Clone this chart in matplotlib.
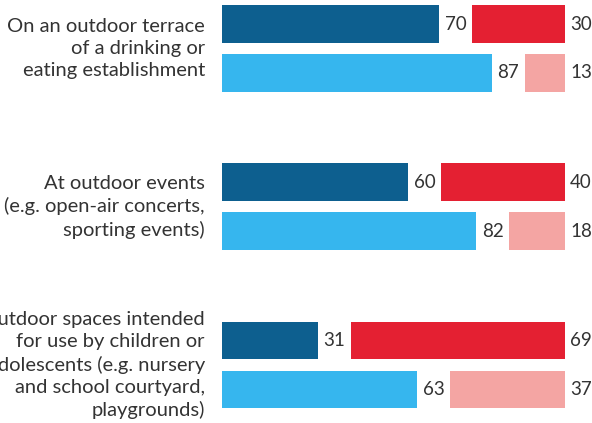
import matplotlib
matplotlib.use("Agg")
import matplotlib.pyplot as plt

# ---------------------------------------------------------------------------
# data
# ---------------------------------------------------------------------------
categories = [
    "On an outdoor terrace\nof a drinking or\neating establishment",
    "At outdoor events\n(e.g. open-air concerts,\nsporting events)",
    "In outdoor spaces intended\nfor use by children or\nadolescents (e.g. nursery\nand school courtyard,\nplaygrounds)",
]
top_yes = [70, 60, 31]      # dark blue
top_no = [30, 40, 69]       # red
bottom_yes = [87, 82, 63]   # light blue
bottom_no = [13, 18, 37]    # pink

DARK_BLUE = "#0D5F8F"
RED = "#E42032"
LIGHT_BLUE = "#36B6EE"
PINK = "#F4A5A3"
TEXT = "#333333"

plt.rcParams["font.family"] = ["Lato", "DejaVu Sans"]

W, H, DPI = 592, 423, 100
fig = plt.figure(figsize=(W / DPI, H / DPI), dpi=DPI)
# axes spans bar area horizontally, full height vertically (y in pixel-ish units)
ax = fig.add_axes([222 / W, 0, 343 / W, 1])
GAP = 10.6          # gap between the two segments, in value units
ax.set_xlim(0, 100 + GAP)
ax.set_ylim(H, 0)
ax.axis("off")

GROUP_STEP = 158.25
FIRST = 48.5
OFFSET = 24.5
BAR_H = 37.5

for i, label in enumerate(categories):
    yc = FIRST + GROUP_STEP * i
    for y, v1, v2, c1, c2 in (
        (yc - OFFSET, top_yes[i], top_no[i], DARK_BLUE, RED),
        (yc + OFFSET, bottom_yes[i], bottom_no[i], LIGHT_BLUE, PINK),
    ):
        ax.barh(y, v1, height=BAR_H, left=0, color=c1, edgecolor="none")
        ax.barh(y, v2, height=BAR_H, left=v1 + GAP, color=c2, edgecolor="none")
        ax.text(v1 + GAP / 2, y, f"{v1}", ha="center", va="center",
                fontsize=13.5, color=TEXT)
        ax.annotate(f"{v2}", (100 + GAP, y), textcoords="offset pixels",
                    xytext=(5, 0), ha="left", va="center", fontsize=13.5,
                    color=TEXT, annotation_clip=False)
    ax.annotate(label, (0, yc), textcoords="offset pixels", xytext=(-17, 0),
                ha="right", va="center", fontsize=14.5, color=TEXT,
                linespacing=1.37, annotation_clip=False)

fig.savefig("out.png", dpi=DPI)
